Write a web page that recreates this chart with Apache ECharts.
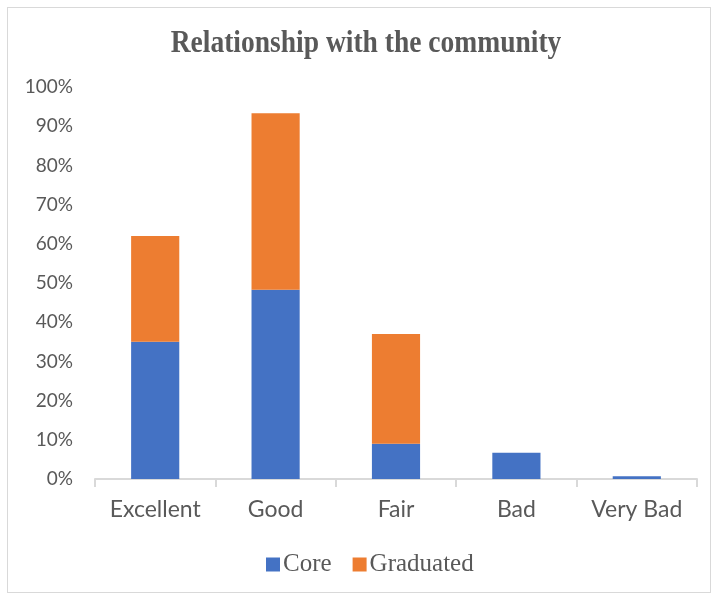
<!DOCTYPE html>
<html>
<head>
<meta charset="utf-8">
<script src="https://cdn.jsdelivr.net/npm/echarts@6/dist/echarts.min.js"></script>
<style>
  html, body { margin: 0; padding: 0; background: #fff; }
  #frame { position: absolute; left: 7px; top: 7px; width: 704px; height: 586px; border: 1px solid #d9d9d9; box-sizing: border-box; }
  #chart { position: absolute; left: 0; top: 0; width: 716px; height: 598px; }
</style>
</head>
<body>
<div id="frame"></div>
<div id="chart"></div>
<script>
// Share of respondents rating their relationship with the community
const categories = ['Excellent', 'Good', 'Fair', 'Bad', 'Very Bad'];
const coreValues = [35, 48.3, 9, 6.7, 0.7];
const graduatedValues = [27, 45, 28, 0, 0];
const yTicks = [0, 10, 20, 30, 40, 50, 60, 70, 80, 90, 100];

const chart = echarts.init(document.getElementById('chart'));
chart.setOption({
  animation: false,
  backgroundColor: 'transparent',
  graphic: [{
    type: 'text',
    x: 366, y: 44,
    scaleX: 0.86,
    style: {
      text: 'Relationship with the community',
      textAlign: 'center', textVerticalAlign: 'middle',
      fontFamily: 'Liberation Serif', fontWeight: 'bold', fontSize: 32, fill: '#595959'
    }
  }],
  legend: {
    top: 552, left: 266, padding: 0,
    itemWidth: 14, itemHeight: 14, itemGap: 21,
    icon: 'rect',
    textStyle: { fontFamily: 'Liberation Serif', fontSize: 25, color: '#595959', padding: [0, 0, 0, -2] },
    data: ['Core', 'Graduated']
  },
  grid: { left: 95, right: 19, top: 87, bottom: 119 },
  xAxis: {
    type: 'category',
    data: categories,
    axisLine: { lineStyle: { color: '#d9d9d9', width: 2 } },
    axisTick: { show: true, alignWithLabel: false, length: 8, lineStyle: { color: '#d9d9d9', width: 2 } },
    axisLabel: { fontFamily: 'Lato', fontSize: 23, color: '#595959', margin: 19 }
  },
  yAxis: {
    type: 'value',
    min: yTicks[0], max: yTicks[yTicks.length - 1], interval: 10,
    splitLine: { show: false },
    axisLine: { show: false },
    axisTick: { show: false },
    axisLabel: {
      fontFamily: 'Lato', fontSize: 19, color: '#595959', margin: 22,
      formatter: v => v + '%'
    }
  },
  series: [
    {
      name: 'Core', type: 'bar', stack: 'total', data: coreValues,
      barWidth: '40%',
      itemStyle: { color: '#4472c4' }
    },
    {
      name: 'Graduated', type: 'bar', stack: 'total', data: graduatedValues,
      barWidth: '40%',
      itemStyle: { color: '#ed7d31' }
    }
  ]
});
</script>
</body>
</html>
